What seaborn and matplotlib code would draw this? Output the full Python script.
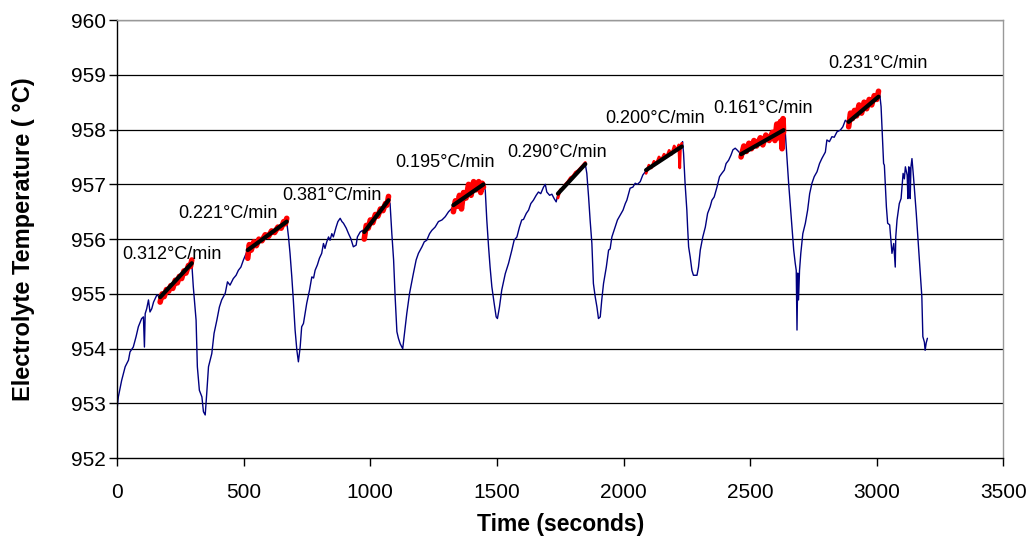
import matplotlib
matplotlib.use("Agg")
import matplotlib.pyplot as plt
import pandas as pd
import seaborn as sns

# electrolyte temperature trace
time_s = [0, 5, 18, 32, 45, 51, 64, 75, 84, 97, 104, 108, 111, 117, 124, 130, 137, 144, 157, 170,
          295, 301, 312, 317, 325, 335, 341, 348, 354, 361, 374, 383, 394, 404, 413, 427, 436, 446,
          459, 470, 479, 489, 499, 510, 516,
          670, 677, 683, 690, 696, 703, 710, 716, 723, 729, 736, 749, 760, 769, 776, 782, 791, 799,
          808, 815, 821, 828, 835, 841, 848, 854, 865, 872, 881, 888, 894, 905, 914, 923, 933, 944,
          949, 960, 970, 976,
          1072, 1078, 1085, 1092, 1098, 1105, 1111, 1118, 1128, 1138, 1144, 1155, 1170, 1181, 1190,
          1204, 1213, 1223, 1234, 1243, 1256, 1269, 1283, 1296, 1309, 1322, 1328,
          1447, 1454, 1460, 1467, 1473, 1480, 1489, 1497, 1502, 1510, 1519, 1533, 1546, 1559, 1568,
          1579, 1589, 1598, 1605, 1616, 1625, 1634, 1644, 1655, 1664, 1673, 1684, 1691, 1697, 1708,
          1717, 1726, 1734, 1741,
          1849, 1855, 1862, 1868, 1875, 1881, 1888, 1895, 1901, 1908, 1914, 1921, 1932, 1941, 1947,
          1954, 1967, 1976, 1987, 1998, 2007, 2013, 2020, 2026, 2037, 2046, 2055, 2066, 2076, 2086,
          2089,
          2230, 2233, 2237, 2243, 2250, 2253, 2257, 2263, 2270, 2276, 2290, 2296, 2303, 2313, 2323,
          2332, 2342, 2349, 2358, 2369, 2379, 2388, 2398, 2405, 2415, 2424, 2432, 2441, 2450, 2464,
          2632, 2639, 2645, 2652, 2658, 2665, 2672, 2678, 2682, 2685, 2688, 2691, 2695, 2700, 2708,
          2718, 2727, 2735, 2744, 2753, 2764, 2774, 2783, 2797, 2803, 2813, 2823, 2832, 2843, 2856,
          2866, 2876, 2883, 2889,
          3007, 3010, 3017, 3021, 3027, 3030, 3034, 3038, 3043, 3051, 3060, 3067, 3073, 3075, 3080,
          3089, 3096, 3100, 3104, 3109, 3113, 3120, 3123, 3126, 3130, 3132, 3135, 3139, 3145, 3149,
          3156, 3165, 3172, 3178, 3182, 3188, 3191, 3195, 3200]
temp_c = [952.9, 953.12, 953.42, 953.67, 953.79, 953.94, 954.03, 954.22, 954.40, 954.55, 954.58,
          954.03, 954.64, 954.73, 954.89, 954.67, 954.73, 954.85, 954.98, 954.94,
          955.56, 955.13, 954.52, 953.67, 953.24, 953.12, 952.85, 952.79, 953.18, 953.67, 953.91,
          954.28, 954.52, 954.76, 954.89, 955.01, 955.22, 955.16, 955.28, 955.34, 955.43, 955.49,
          955.62, 955.74, 955.80,
          956.32, 956.04, 955.74, 955.31, 954.89, 954.34, 953.97, 953.76, 954.03, 954.40, 954.46,
          954.83, 955.07, 955.31, 955.29, 955.43, 955.53, 955.65, 955.74, 955.92, 955.83, 955.95,
          956.04, 955.98, 956.10, 956.04, 956.22, 956.32, 956.38, 956.32, 956.29, 956.20, 956.10,
          956.01, 955.86, 955.89, 956.04, 956.13, 956.16, 956.13,
          956.71, 956.65, 956.10, 955.62, 954.95, 954.31, 954.19, 954.09, 954.00, 954.40, 954.64,
          955.01, 955.37, 955.62, 955.74, 955.86, 955.95, 955.98, 956.10, 956.16, 956.22, 956.32,
          956.35, 956.41, 956.50, 956.56, 956.62,
          957.0, 956.89, 956.35, 955.86, 955.49, 955.13, 954.83, 954.58, 954.55, 954.76, 955.07,
          955.37, 955.56, 955.80, 955.98, 956.04, 956.22, 956.35, 956.36, 956.47, 956.53, 956.65,
          956.71, 956.80, 956.86, 956.83, 956.95, 957.0, 956.86, 956.80, 956.82, 956.74, 956.68,
          956.83,
          957.37, 957.20, 956.77, 956.35, 955.92, 955.19, 954.95, 954.76, 954.55, 954.58, 954.89,
          955.19, 955.49, 955.80, 955.82, 956.04, 956.22, 956.35, 956.44, 956.53, 956.65, 956.71,
          956.83, 956.93, 956.95, 957.02, 957.0, 957.05, 957.17, 957.23, 957.26,
          957.69, 957.78, 957.57, 957.02, 956.53, 956.22, 955.86, 955.68, 955.43, 955.34, 955.34,
          955.49, 955.80, 956.04, 956.22, 956.47, 956.59, 956.71, 956.77, 956.95, 957.14, 957.20,
          957.26, 957.38, 957.44, 957.53, 957.63, 957.66, 957.62, 957.55,
          957.99, 957.93, 957.50, 957.02, 956.65, 956.22, 955.80, 955.56, 955.43, 954.34, 955.38,
          954.89, 955.43, 955.74, 956.10, 956.29, 956.53, 956.83, 957.02, 957.14, 957.23, 957.38,
          957.47, 957.59, 957.81, 957.78, 957.87, 957.86, 957.96, 957.99, 958.05, 958.17, 958.14,
          958.14,
          958.60, 958.72, 958.42, 957.99, 957.38, 957.35, 956.96, 956.59, 956.29, 956.26, 955.74,
          955.92, 955.49, 956.04, 956.35, 956.65, 956.74, 956.96, 957.20, 957.1, 957.32, 957.17,
          956.74, 957.32, 957.3, 956.74, 957.32, 957.47, 957.14, 956.89, 956.47, 955.86, 955.37,
          954.95, 954.22, 954.12, 953.97, 954.1, 954.19]

# noisy heating windows (red)
red_t = [
    [170, 178, 186, 195, 204, 212, 220, 230, 238, 246, 255, 264, 272, 282, 290, 295],
    [516, 522, 530, 540, 550, 560, 572, 585, 598, 610, 622, 635, 648, 658, 665, 670],
    [976, 984, 992, 1000, 1010, 1020, 1030, 1040, 1050, 1060, 1066, 1072],
    [1328, 1336, 1344, 1352, 1360, 1368, 1378, 1388, 1398, 1408, 1418, 1428, 1436, 1442, 1447],
    [1741, 1750, 1760, 1770, 1780, 1790, 1800, 1810, 1820, 1830, 1840, 1849],
    [2089, 2100, 2110, 2120, 2130, 2140, 2150, 2160, 2170, 2180, 2190, 2200, 2210, 2218, 2222,
     2225, 2230],
    [2464, 2475, 2485, 2495, 2505, 2515, 2525, 2540, 2550, 2562, 2575, 2588, 2598, 2605, 2612,
     2620, 2626, 2630, 2632],
    [2889, 2896, 2904, 2912, 2920, 2930, 2940, 2950, 2960, 2970, 2980, 2990, 3000, 3007],
]
red_T = [
    [954.85, 955.0, 954.95, 955.08, 955.05, 955.15, 955.1, 955.25, 955.2, 955.32, 955.28, 955.42,
     955.38, 955.52, 955.5, 955.62],
    [955.65, 955.9, 955.8, 955.95, 955.88, 956.0, 955.97, 956.08, 956.05, 956.15, 956.12, 956.22,
     956.2, 956.32, 956.28, 956.38],
    [956.0, 956.25, 956.2, 956.35, 956.3, 956.45, 956.42, 956.55, 956.52, 956.65, 956.62, 956.78],
    [956.5, 956.7, 956.6, 956.8, 956.55, 956.85, 956.75, 957.0, 956.8, 957.05, 956.9, 957.05,
     956.85, 957.02, 956.95],
    [956.75, 956.9, 956.92, 957.0, 957.05, 957.12, 957.15, 957.22, 957.25, 957.3, 957.35, 957.4],
    [957.2, 957.35, 957.3, 957.42, 957.38, 957.5, 957.45, 957.55, 957.5, 957.62, 957.55, 957.7,
     957.62, 957.72, 957.3, 957.7, 957.75],
    [957.5, 957.7, 957.6, 957.75, 957.65, 957.8, 957.7, 957.85, 957.72, 957.9, 957.8, 957.95,
     957.8, 958.1, 957.85, 958.15, 957.65, 958.2, 957.95],
    [958.05, 958.3, 958.2, 958.35, 958.25, 958.45, 958.3, 958.5, 958.38, 958.55, 958.45, 958.62,
     958.55, 958.7],
]
red_width = [4.0, 4.0, 4.0, 4.0, 2.0, 2.0, 4.0, 4.0]

# linear fits
fit_t0 = [170, 516, 976, 1328, 1741, 2089, 2464, 2889]
fit_T0 = [954.94, 955.80, 956.13, 956.62, 956.83, 957.26, 957.55, 958.14]
fit_t1 = [295, 670, 1072, 1447, 1849, 2230, 2632, 3007]
fit_T1 = [955.56, 956.32, 956.71, 957.00, 957.37, 957.69, 957.99, 958.60]

rates = ["0.312°C/min", "0.221°C/min", "0.381°C/min", "0.195°C/min",
         "0.290°C/min", "0.200°C/min", "0.161°C/min", "0.231°C/min"]
label_t = [20, 241, 652, 1098, 1540, 1928, 2354, 2808]
label_T = [955.72, 956.47, 956.79, 957.39, 957.59, 958.21, 958.39, 959.21]

sns.set_style("white")
plt.rcParams["font.family"] = ["Liberation Sans", "DejaVu Sans"]
plt.rcParams["text.color"] = "black"
plt.rcParams["axes.labelcolor"] = "black"
plt.rcParams["xtick.color"] = "black"
plt.rcParams["ytick.color"] = "black"

fig = plt.figure(figsize=(10.27, 5.41), dpi=100)
ax = fig.add_axes([0.114, 0.153, 0.863, 0.810])

ax.set_yticks(range(952, 961))
for y in range(953, 961):
    ax.axhline(y, color="black", lw=0.9, zorder=0)

trace = pd.DataFrame({"t": time_s, "T": temp_c})
sns.lineplot(data=trace, x="t", y="T", sort=False, estimator=None,
             color="#000080", lw=1.0, ax=ax, zorder=2)

for ts, Ts, w in zip(red_t, red_T, red_width):
    seg = pd.DataFrame({"t": ts, "T": Ts})
    sns.lineplot(data=seg, x="t", y="T", sort=False, estimator=None,
                 color="red", lw=w, ax=ax, zorder=3)

for a, b, c, d in zip(fit_t0, fit_T0, fit_t1, fit_T1):
    fit = pd.DataFrame({"t": [a, c], "T": [b, d]})
    sns.lineplot(data=fit, x="t", y="T", sort=False, estimator=None,
                 color="black", lw=3.0, ax=ax, zorder=4)

for txt, x, y in zip(rates, label_t, label_T):
    ax.text(x, y, txt, fontsize=13, ha="left", va="center", color="black", zorder=5)

ax.set_xlim(0, 3500)
ax.set_ylim(952, 960)
ax.set_xticks(range(0, 3501, 500))
ax.tick_params(axis="both", labelsize=15, direction="out", length=6, width=1,
               color="black", labelcolor="black", left=True, bottom=True)
ax.tick_params(axis="x", pad=12)
ax.tick_params(axis="y", pad=2)
ax.set_xlabel("Time (seconds)", fontsize=16.5, fontweight="bold", labelpad=8, color="black")
ax.set_ylabel("Electrolyte Temperature ( °C)", fontsize=17, fontweight="bold", labelpad=26,
              color="black")

for s in ["left", "bottom"]:
    ax.spines[s].set_color("black")
    ax.spines[s].set_linewidth(1)
for s in ["top", "right"]:
    ax.spines[s].set_color("#999999")
    ax.spines[s].set_linewidth(1)

fig.savefig("out.png", dpi=100)
